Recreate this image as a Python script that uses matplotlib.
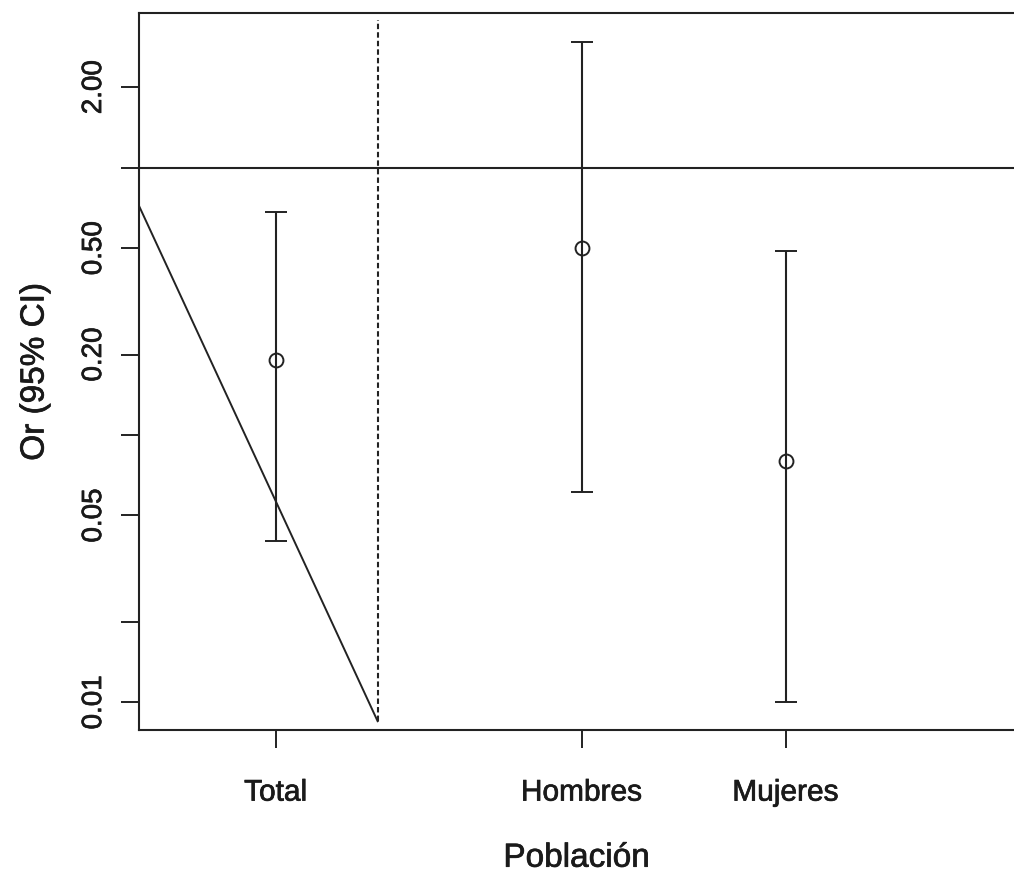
import matplotlib
matplotlib.use('Agg')
import matplotlib.pyplot as plt
import matplotlib.patheffects as pe

# datos (OR e IC 95%)
grupos = ['Total', 'Hombres', 'Mujeres']
posiciones = [1, 4, 6]
or_valor = [0.19, 0.50, 0.080]
ic_inf = [0.040, 0.061, 0.010]
ic_sup = [0.68, 2.96, 0.49]

y_ticks = [0.01, 0.02, 0.05, 0.1, 0.2, 0.5, 1, 2]
y_tick_labels = ['0.01', '', '0.05', '', '0.20', '0.50', '', '2.00']

# linea de referencia, separador y diagonal
linea_ref = 1
sep_x = 2
sep_y = [0.0085, 3.56]
diag_x = [-0.34, 2]
diag_y = [0.72, 0.0085]

plt.rcParams['font.family'] = ['Liberation Sans', 'DejaVu Sans']
col = '#222222'
txt_col = '#1a1a1a'
# trazo fino para que el texto se vea algo mas grueso, como en el original
grueso = [pe.withStroke(linewidth=0.5, foreground=txt_col)]

fig = plt.figure(figsize=(10.14, 8.78), dpi=100)
ax = fig.add_axes([139 / 1014, 147 / 878, 875 / 1014, 717 / 878])

err_lo = [v - lo for v, lo in zip(or_valor, ic_inf)]
err_hi = [hi - v for v, hi in zip(or_valor, ic_sup)]
ax.errorbar(posiciones, or_valor, yerr=[err_lo, err_hi], fmt='o', color=col,
            mfc='none', mec=col, ms=10, mew=1.4, elinewidth=1.5,
            capsize=8, capthick=1.5, zorder=3)

ax.axhline(linea_ref, color=col, lw=1.5, clip_on=False)
ax.plot([sep_x, sep_x], sep_y, color=col, lw=1.5, dashes=(2.6, 1.5))
ax.plot(diag_x, diag_y, color=col, lw=1.4)

ax.set_yscale('log')
ax.set_ylim(0.00788, 3.79)
ax.set_xlim(-0.34, 8.24)

ax.set_yticks(y_ticks)
ax.set_yticklabels(y_tick_labels, rotation=90, va='center')
ax.minorticks_off()
ax.set_xticks(posiciones)
ax.set_xticklabels(grupos)

ax.tick_params(axis='both', direction='out', length=13, width=1.4,
               color=col, labelcolor=txt_col)
ax.tick_params(axis='y', pad=10, labelsize=20)
ax.tick_params(axis='x', pad=22, labelsize=21.5)

for s in ['left', 'top', 'bottom']:
    ax.spines[s].set_linewidth(1.5)
    ax.spines[s].set_color(col)
ax.spines['right'].set_visible(False)

ax.set_xlabel('Población', fontsize=24, color=txt_col, labelpad=26)
ax.set_ylabel('Or (95% CI)', fontsize=24, color=txt_col, labelpad=22)

for t in ax.get_xticklabels() + ax.get_yticklabels() + [ax.xaxis.label, ax.yaxis.label]:
    t.set_path_effects(grueso)

plt.savefig('out.png', dpi=100)
